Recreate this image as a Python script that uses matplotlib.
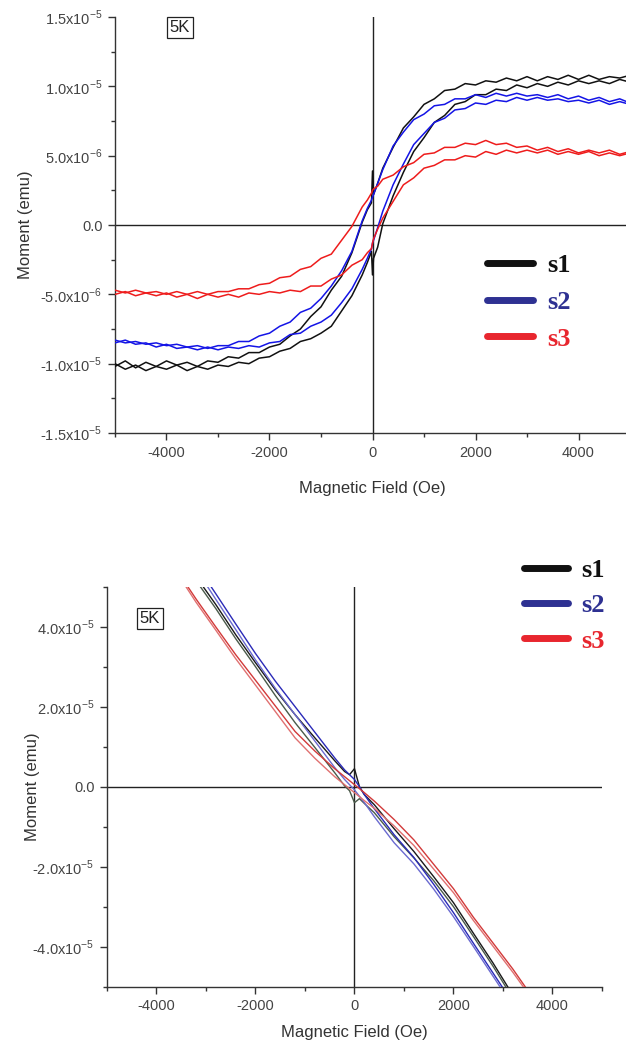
import matplotlib
matplotlib.use("Agg")
import matplotlib.pyplot as plt
from matplotlib.lines import Line2D
import numpy as np

plt.rcParams['font.family'] = ['Liberation Sans', 'DejaVu Sans']
plt.rcParams['axes.unicode_minus'] = False

# ---- loop data, 5 K (moment in units of 1e-6 emu) ----
field_loop = [-5000, -4800, -4600, -4400, -4200, -4000, -3800, -3600, -3400, -3200,
              -3000, -2800, -2600, -2400, -2200, -2000, -1800, -1600, -1400, -1200,
              -1000, -800, -600, -400, -200, -100, -20, 0, 20, 100,
              200, 400, 600, 800, 1000, 1200, 1400, 1600, 1800, 2000,
              2200, 2400, 2600, 2800, 3000, 3200, 3400, 3600, 3800, 4000,
              4200, 4400, 4600, 4800, 5000]

s1_down = [-10.2, -9.8, -10.3, -9.9, -10.2, -9.8, -10.1, -9.9, -10.2, -9.8,
           -9.9, -9.5, -9.6, -9.2, -9.2, -8.8, -8.6, -8.0, -7.5, -6.6,
           -5.9, -4.7, -3.7, -2.0, 0.2, 1.1, 1.6, 3.9, 2.2, 3.0,
           4.1, 5.6, 7.0, 7.8, 8.7, 9.1, 9.7, 9.8, 10.2, 10.1,
           10.4, 10.3, 10.6, 10.4, 10.7, 10.4, 10.7, 10.5, 10.8, 10.5,
           10.8, 10.5, 10.7, 10.6, 10.8]
s1_up = [-10.0, -10.4, -10.1, -10.5, -10.2, -10.4, -10.1, -10.5, -10.2, -10.4,
         -10.1, -10.2, -9.9, -10.0, -9.6, -9.5, -9.1, -8.9, -8.4, -8.2,
         -7.8, -7.3, -6.2, -5.1, -3.6, -2.7, -1.9, -3.6, -2.4, -1.6,
         0.1, 2.1, 3.8, 5.3, 6.3, 7.4, 7.9, 8.7, 8.9, 9.4,
         9.4, 9.8, 9.7, 10.1, 9.9, 10.2, 10.0, 10.3, 10.1, 10.4,
         10.2, 10.4, 10.2, 10.5, 10.3]

s2_down = [-8.3, -8.5, -8.4, -8.6, -8.5, -8.7, -8.6, -8.8, -8.7, -8.9,
           -8.7, -8.7, -8.4, -8.4, -8.0, -7.8, -7.3, -7.0, -6.3, -6.0,
           -5.3, -4.4, -3.3, -1.9, 0.3, 1.2, 1.8, 2.0, 2.2, 3.0,
           4.0, 5.7, 6.7, 7.6, 8.0, 8.6, 8.7, 9.1, 9.1, 9.4,
           9.2, 9.5, 9.3, 9.5, 9.3, 9.4, 9.2, 9.4, 9.1, 9.3,
           9.0, 9.2, 8.9, 9.1, 8.8]
s2_up = [-8.5, -8.3, -8.6, -8.5, -8.8, -8.6, -8.9, -8.8, -9.0, -8.8,
         -9.0, -8.8, -8.9, -8.7, -8.8, -8.5, -8.4, -7.9, -7.8, -7.3,
         -7.0, -6.5, -5.6, -4.6, -3.2, -2.4, -1.7, -1.3, -1.1, -0.2,
         1.0, 2.9, 4.4, 5.8, 6.6, 7.4, 7.7, 8.3, 8.4, 8.8,
         8.7, 9.0, 8.9, 9.2, 9.0, 9.2, 9.0, 9.1, 8.9, 9.0,
         8.8, 9.0, 8.7, 8.9, 8.7]

s3_down = [-4.7, -4.9, -4.7, -4.9, -4.8, -5.0, -4.8, -5.0, -4.8, -5.0,
           -4.8, -4.8, -4.6, -4.6, -4.3, -4.2, -3.8, -3.7, -3.2, -3.0,
           -2.4, -2.1, -1.1, -0.1, 1.3, 1.8, 2.3, 2.5, 2.6, 2.8,
           3.3, 3.6, 4.2, 4.5, 5.1, 5.2, 5.6, 5.6, 5.9, 5.8,
           6.1, 5.8, 5.9, 5.6, 5.7, 5.4, 5.6, 5.3, 5.5, 5.2,
           5.4, 5.2, 5.4, 5.1, 5.3]
s3_up = [-5.0, -4.8, -5.1, -4.9, -5.1, -4.9, -5.2, -5.0, -5.3, -5.0,
         -5.2, -5.0, -5.2, -4.9, -5.0, -4.8, -4.9, -4.7, -4.8, -4.4,
         -4.4, -3.9, -3.6, -2.9, -2.5, -2.0, -1.7, -1.3, -1.0, -0.3,
         0.5, 1.7, 2.9, 3.4, 4.1, 4.3, 4.7, 4.7, 5.0, 4.9,
         5.3, 5.1, 5.4, 5.2, 5.4, 5.2, 5.4, 5.1, 5.3, 5.1,
         5.3, 5.0, 5.2, 5.0, 5.2]

# ---- raw data, 5 K (moment in units of 1e-5 emu) ----
field_raw = [-4000, -3600, -3200, -2800, -2400, -2000, -1600, -1200, -800, -400,
             -200, -100, 0, 100, 200, 400, 800, 1200, 1600, 2000,
             2400, 2800, 3200, 3600, 4000]

r1_a = [6.65, 5.95, 5.25, 4.55, 3.8, 3.1, 2.42, 1.8, 1.22, 0.65,
        0.38, 0.3, 0.45, 0.0, -0.2, -0.45, -1.05, -1.62, -2.25, -2.9,
        -3.66, -4.41, -5.21, -5.96, -6.76]
r1_b = [6.55, 5.85, 5.15, 4.45, 3.7, 3.0, 2.28, 1.6, 0.98, 0.35,
        0.02, -0.1, -0.4, -0.3, -0.42, -0.65, -1.25, -1.78, -2.35, -3.0,
        -3.74, -4.49, -5.29, -6.04, -6.84]
r2_a = [6.95, 6.26, 5.56, 4.82, 4.07, 3.33, 2.64, 2.0, 1.36, 0.72,
        0.42, 0.3, 0.18, 0.0, -0.2, -0.55, -1.2, -1.77, -2.44, -3.15,
        -3.91, -4.66, -5.41, -6.16, -6.96]
r2_b = [6.85, 6.14, 5.44, 4.68, 3.93, 3.17, 2.46, 1.8, 1.14, 0.48,
        0.18, 0.05, -0.08, -0.24, -0.4, -0.75, -1.4, -1.93, -2.56, -3.25,
        -3.99, -4.74, -5.49, -6.24, -7.04]
r3_a = [6.13, 5.43, 4.69, 3.99, 3.3, 2.66, 2.02, 1.38, 0.89, 0.45,
        0.25, 0.15, 0.05, -0.05, -0.15, -0.36, -0.82, -1.33, -1.94, -2.55,
        -3.26, -3.91, -4.56, -5.27, -5.97]
r3_b = [6.07, 5.37, 4.61, 3.91, 3.2, 2.54, 1.88, 1.22, 0.71, 0.25,
        0.05, -0.05, -0.15, -0.25, -0.35, -0.54, -0.98, -1.47, -2.06, -2.65,
        -3.34, -3.99, -4.64, -5.33, -6.03]

labels = ['s1', 's2', 's3']
legend_colors = ['#111111', '#2e3192', '#e8262e']

x_ticks = [-4000, -2000, 0, 2000, 4000]
x_minor = [-5000, -3000, -1000, 1000, 3000, 5000]

top_yticks = [-1.5e-5, -1.0e-5, -5e-6, 0, 5e-6, 1.0e-5, 1.5e-5]
top_ylabels = ['-1.5x10$^{\\mathregular{-5}}$', '-1.0x10$^{\\mathregular{-5}}$',
               '-5.0x10$^{\\mathregular{-6}}$', '0.0', '5.0x10$^{\\mathregular{-6}}$',
               '1.0x10$^{\\mathregular{-5}}$', '1.5x10$^{\\mathregular{-5}}$']
bot_yticks = [-4e-5, -2e-5, 0, 2e-5, 4e-5]
bot_ylabels = ['-4.0x10$^{\\mathregular{-5}}$', '-2.0x10$^{\\mathregular{-5}}$', '0.0',
               '2.0x10$^{\\mathregular{-5}}$', '4.0x10$^{\\mathregular{-5}}$']

fig = plt.figure(figsize=(6.26, 10.51), dpi=100)
ax1 = fig.add_axes([0.1837, 0.588, 0.8227, 0.3958])
ax2 = fig.add_axes([0.1709, 0.0612, 0.7907, 0.3806])


def style_axes(ax, yticks, ylabels, yminor):
    ax.axhline(0, color='#222222', lw=1.0, zorder=1)
    ax.axvline(0, color='#222222', lw=1.0, zorder=1)
    ax.spines['top'].set_visible(False)
    ax.spines['right'].set_visible(False)
    for s in ['left', 'bottom']:
        ax.spines[s].set_color('#333333')
        ax.spines[s].set_linewidth(1.0)
    ax.set_xlim(-5000, 5000)
    ax.set_xticks(x_ticks)
    ax.set_xticks(x_minor, minor=True)
    ax.set_yticks(yticks, ylabels)
    ax.set_yticks(yminor, minor=True)
    ax.tick_params(which='major', direction='out', length=5, width=1.0,
                   color='#333333', labelsize=10.5, labelcolor='#444444', pad=4)
    ax.tick_params(which='minor', direction='out', length=3, width=1.0, color='#333333')
    ax.set_xlabel('Magnetic Field (Oe)', fontsize=12, color='#333333')
    ax.set_ylabel('Moment (emu)', fontsize=12, color='#333333')


# hysteresis loops
H = np.array(field_loop)
loop_colors = ['#111111', '#1414e6', '#ee1c1c']
for down, up, c in zip([s1_down, s2_down, s3_down], [s1_up, s2_up, s3_up], loop_colors):
    ax1.plot(H, np.array(down) * 1e-6, color=c, lw=1.1, zorder=3)
    ax1.plot(H, np.array(up) * 1e-6, color=c, lw=1.1, zorder=3)
ax1.set_ylim(-1.5e-5, 1.5e-5)
style_axes(ax1, top_yticks, top_ylabels,
           [-1.25e-5, -7.5e-6, -2.5e-6, 2.5e-6, 7.5e-6, 1.25e-5])
ax1.yaxis.set_label_coords(-0.16, 0.5)
ax1.xaxis.set_label_coords(0.5, -0.115)
ax1.text(0.126, 0.975, '5K', transform=ax1.transAxes, ha='center', va='center',
         fontsize=12, color='#222222',
         bbox=dict(boxstyle='square,pad=0.18', fc='white', ec='#222222', lw=0.9))

# raw moment vs field
Hr = np.array(field_raw)
raw_colors = [('#1a1a1a', '#4a5a4a'), ('#2a2ab8', '#6a6ad0'), ('#d23a3a', '#e07070')]
for a, b, (c1, c2) in zip([r1_a, r2_a, r3_a], [r1_b, r2_b, r3_b], raw_colors):
    ax2.plot(Hr, np.array(a) * 1e-5, color=c1, lw=1.0, zorder=3)
    ax2.plot(Hr, np.array(b) * 1e-5, color=c2, lw=1.0, zorder=3)
ax2.set_ylim(-5e-5, 5e-5)
style_axes(ax2, bot_yticks, bot_ylabels, [-5e-5, -3e-5, -1e-5, 1e-5, 3e-5, 5e-5])
ax2.yaxis.set_label_coords(-0.135, 0.5)
ax2.xaxis.set_label_coords(0.5, -0.095)
ax2.text(0.087, 0.92, '5K', transform=ax2.transAxes, ha='center', va='center',
         fontsize=12, color='#222222',
         bbox=dict(boxstyle='square,pad=0.18', fc='white', ec='#222222', lw=0.9))

# legends
handles = [Line2D([], [], color=c, lw=5, solid_capstyle='round') for c in legend_colors]
leg_font = {'family': 'Liberation Serif', 'weight': 'bold', 'size': 19}
ax1.legend(handles, labels, loc='upper left', bbox_to_anchor=(0.676, 0.488),
           frameon=False, prop=leg_font, labelcolor=legend_colors,
           handlelength=1.75, handletextpad=0.55, labelspacing=0.5)
ax2.legend(handles, labels, loc='upper left', bbox_to_anchor=(0.795, 1.13),
           frameon=False, prop=leg_font, labelcolor=legend_colors,
           handlelength=1.65, handletextpad=0.5, labelspacing=0.45)

fig.savefig('out.png', dpi=100)
